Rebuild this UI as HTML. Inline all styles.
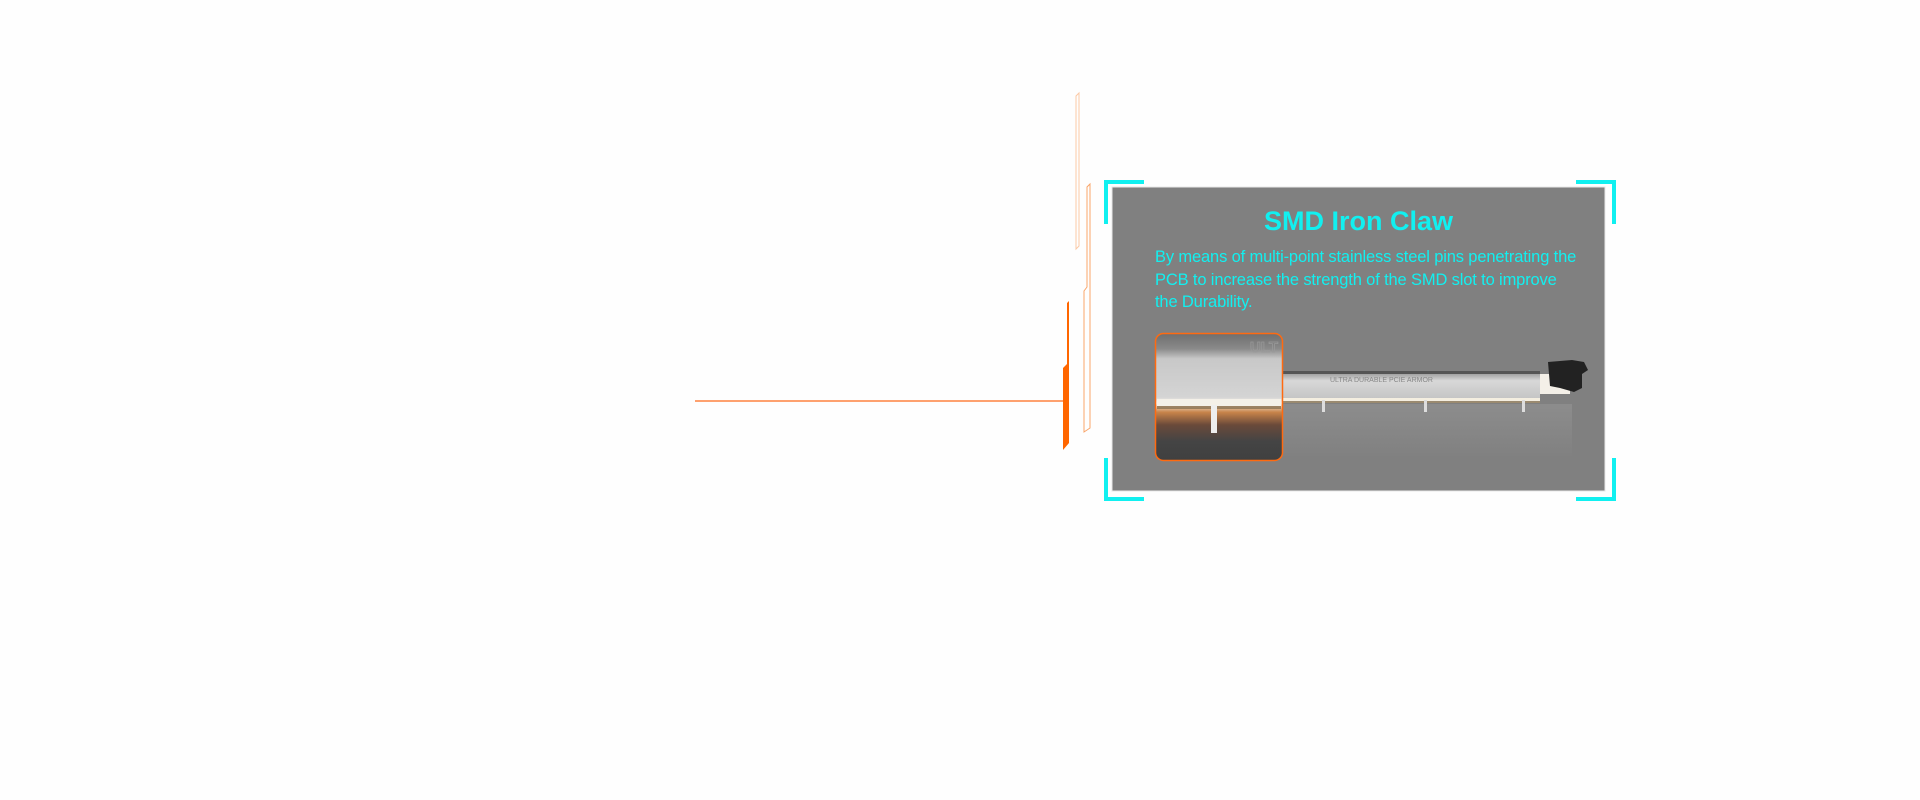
<!DOCTYPE html>
<html><head><meta charset="utf-8"><style>
html,body{margin:0;padding:0;background:#fefefe;width:1920px;height:800px;overflow:hidden;font-family:"Liberation Sans",sans-serif}
</style></head><body>
<svg width="1920" height="800" style="position:absolute;left:0;top:0">
<defs>
<linearGradient id="ins" x1="0" y1="0" x2="0" y2="1">
<stop offset="0" stop-color="#6e6e6e"/><stop offset="0.12" stop-color="#8a8a8a"/><stop offset="0.2" stop-color="#c8c8c8"/><stop offset="0.5" stop-color="#d4d4d4"/><stop offset="0.55" stop-color="#f4f0e8"/><stop offset="0.62" stop-color="#c8844a"/><stop offset="0.72" stop-color="#6a4a3a"/><stop offset="0.85" stop-color="#444"/><stop offset="1" stop-color="#404040"/>
</linearGradient>
<linearGradient id="slot" x1="0" y1="0" x2="0" y2="1">
<stop offset="0" stop-color="#9a9a9a"/><stop offset="0.3" stop-color="#d8d8d8"/><stop offset="1" stop-color="#c4c4c4"/>
</linearGradient>
<linearGradient id="refl" x1="0" y1="0" x2="0" y2="1">
<stop offset="0" stop-color="#999"/><stop offset="1" stop-color="#808080"/>
</linearGradient>
</defs>
<line x1="695" y1="401" x2="1064" y2="401" stroke="#ff6a1a" stroke-width="1.2"/>
<polygon points="1067,303 1069,301 1069,443 1063,450 1063,368 1067,364" fill="#ff6600"/>
<polygon points="1076,96 1079,93 1079,246 1076,249" fill="none" stroke="#fcc9a5" stroke-width="1"/>
<polygon points="1087,187 1090,184 1090,428 1084,432 1084,291 1087,287" fill="none" stroke="#f9a56a" stroke-width="1"/>
<rect x="1112" y="187" width="493" height="304" fill="#808080"/>
<rect x="1112" y="187" width="493" height="304" fill="none" stroke="#e8e8e8" stroke-width="1"/>
<g fill="none" stroke="#11f0f0" stroke-width="4">
<polyline points="1144,182 1106,182 1106,224"/>
<polyline points="1576,182 1614,182 1614,224"/>
<polyline points="1106,458 1106,499 1144,499"/>
<polyline points="1614,458 1614,499 1576,499"/>
</g>
<rect x="1282" y="404" width="290" height="55" fill="url(#refl)" opacity="0.5"/>
<rect x="1282" y="373" width="258" height="26" fill="url(#slot)"/>
<rect x="1282" y="371" width="258" height="3" fill="#555"/>
<rect x="1282" y="398" width="258" height="3" fill="#f4eee0"/>
<rect x="1282" y="401" width="258" height="2" fill="#9a8a70"/>
<rect x="1540" y="374" width="30" height="20" fill="#f4f0e8"/>
<path d="M1548,362 L1572,360 L1584,362 L1588,370 L1582,374 L1582,388 L1574,392 L1560,388 L1550,386 Z" fill="#222"/>
<rect x="1322" y="400" width="3" height="12" fill="#ddd"/>
<rect x="1424" y="400" width="3" height="12" fill="#ddd"/>
<rect x="1522" y="400" width="3" height="12" fill="#ddd"/>
<text x="1330" y="382" font-size="7" fill="#888" font-family="Liberation Sans">ULTRA DURABLE PCIE ARMOR</text>
<rect x="1155.5" y="333.5" width="127" height="127" rx="8" fill="url(#ins)" stroke="#ff6a10" stroke-width="1.5"/>
<text x="1278" y="352" font-size="15" font-weight="bold" fill="none" stroke="#999" stroke-width="0.8" text-anchor="end" font-family="Liberation Sans">ULT</text>
<rect x="1157" y="399" width="124" height="7" fill="#f4f0e8"/>
<rect x="1157" y="406" width="124" height="3" fill="#8a7050" opacity="0.8"/>
<rect x="1211" y="405" width="6" height="28" fill="#eee"/>
</svg>
<div style="position:absolute;left:1112px;width:493px;top:204px;text-align:center;color:#11f0f0;font-weight:bold;font-size:27px;line-height:34px">SMD Iron Claw</div>
<div style="position:absolute;left:1155px;width:480px;top:246px;color:#11f0f0;font-size:16.5px;line-height:22.5px;letter-spacing:-0.15px;white-space:nowrap">By means of multi-point stainless steel pins penetrating the<br>PCB to increase the strength of the SMD slot to improve<br>the Durability.</div>
</body></html>
